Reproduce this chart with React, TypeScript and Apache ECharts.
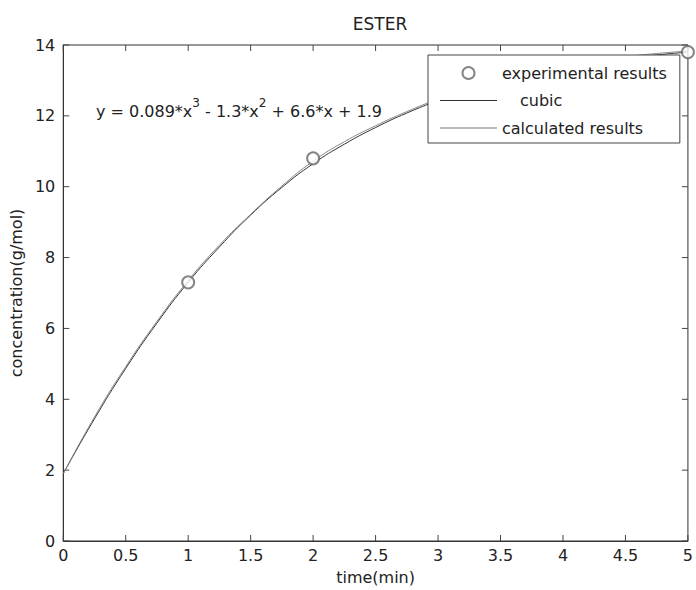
import React, { useEffect, useRef } from "react";
import * as echarts from "echarts";

const experimentalX = [1, 2, 3, 4, 5];
const experimentalY = [7.3, 10.8, 12.45, 13.3, 13.8];

const cubicX = [0, 0.25, 0.5, 0.75, 1, 1.25, 1.5, 1.75, 2, 2.25, 2.5, 2.75, 3, 3.25, 3.5, 3.75, 4, 4.25, 4.5, 4.75, 5];
const cubicY = [1.9, 3.45, 4.87, 6.15, 7.3, 8.3, 9.2, 9.98, 10.65, 11.2, 11.67, 12.08, 12.43, 12.73, 12.98, 13.2, 13.38, 13.52, 13.63, 13.72, 13.8];

const calcX = [0, 0.25, 0.5, 0.75, 1, 1.25, 1.5, 1.75, 2, 2.25, 2.5, 2.75, 3, 3.25, 3.5, 3.75, 4, 4.25, 4.5, 4.75, 5];
const calcY = [1.9, 3.5, 4.92, 6.2, 7.35, 8.35, 9.22, 10.02, 10.72, 11.27, 11.72, 12.12, 12.47, 12.76, 13.02, 13.24, 13.42, 13.56, 13.67, 13.76, 13.83];

const xTickLabels = ["0", "0.5", "1", "1.5", "2", "2.5", "3", "3.5", "4", "4.5", "5"];
const yTickLabels = ["0", "2", "4", "6", "8", "10", "12", "14"];

const FONT = "DejaVu Sans, Liberation Sans, sans-serif";
const TXT = "#222";
const LINE_ICON = "path://M0,0 L57,0 L57,1 L0,1 Z";

export default function App() {
  const ref = useRef<HTMLDivElement>(null);
  useEffect(() => {
    if (!ref.current) return;
    const chart = echarts.init(ref.current, undefined, { renderer: "svg" });
    const zip = (xs: number[], ys: number[]) => xs.map((x, i) => [x, ys[i]]);
    const xTicks = xTickLabels.map(Number);
    const yTicks = yTickLabels.map(Number);
    const xMin = xTicks[0];
    const xMax = xTicks[xTicks.length - 1];
    const yMin = yTicks[0];
    const yMax = yTicks[yTicks.length - 1];
    const tickData = [
      ...xTicks.map((v) => [v, 0]),
      ...yTicks.map((v) => [v, 1]),
    ];
    const TL = 6;
    const tickStyle = { stroke: "#444", lineWidth: 1 };
    chart.setOption({
      animation: false,
      backgroundColor: "#fff",
      textStyle: { fontFamily: FONT },
      title: {
        text: "ESTER",
        left: 375,
        top: 10,
        textAlign: "center",
        textStyle: { fontFamily: FONT, fontSize: 17, fontWeight: "normal", color: TXT },
      },
      grid: {
        left: 63,
        right: 8,
        top: 45,
        bottom: 48,
        containLabel: false,
        show: true,
        borderColor: "#333",
        borderWidth: 1,
        backgroundColor: "transparent",
      },
      xAxis: {
        type: "value",
        min: xMin,
        max: xMax,
        interval: 0.5,
        position: "bottom",
        name: "time(min)",
        nameLocation: "middle",
        nameGap: 28,
        nameTextStyle: { fontFamily: FONT, fontSize: 16, color: TXT },
        axisLine: { show: true, lineStyle: { color: "#333", width: 1 } },
        axisTick: { show: false },
        splitLine: { show: false },
        axisLabel: {
          fontFamily: FONT,
          fontSize: 16,
          color: TXT,
          margin: 6,
          formatter: (v: number) => xTickLabels[Math.round(v * 2)] ?? "",
        },
      },
      yAxis: {
        type: "value",
        min: yMin,
        max: yMax,
        interval: 2,
        position: "left",
        name: "concentration(g/mol)",
        nameLocation: "middle",
        nameGap: 39,
        nameTextStyle: { fontFamily: FONT, fontSize: 16, color: TXT },
        axisLine: { show: true, lineStyle: { color: "#333", width: 1 } },
        axisTick: { show: false },
        splitLine: { show: false },
        axisLabel: {
          fontFamily: FONT,
          fontSize: 16,
          color: TXT,
          margin: 8,
          formatter: (v: number) => yTickLabels[Math.round(v / 2)] ?? "",
        },
      },
      legend: {
        orient: "vertical",
        left: 428,
        top: 55,
        backgroundColor: "#fff",
        borderColor: "#444",
        borderWidth: 1,
        borderRadius: 0,
        padding: [9, 13, 6, 12],
        itemWidth: 57,
        itemHeight: 12,
        itemGap: 9.5,
        textStyle: {
          fontFamily: FONT,
          fontSize: 16,
          lineHeight: 18,
          color: TXT,
          rich: { ind: { fontFamily: FONT, fontSize: 16, lineHeight: 18, color: TXT, padding: [0, 0, 0, 18] } },
        },
        formatter: (name: string) => (name === "cubic" ? "{ind|cubic}" : name),
        data: [
          {
            name: "experimental results",
            icon: "emptyCircle",
            itemStyle: { color: "#666", borderColor: "#666", borderWidth: 1 },
          },
          { name: "cubic", icon: LINE_ICON, itemStyle: { color: "#333", borderWidth: 0 } },
          { name: "calculated results", icon: LINE_ICON, itemStyle: { color: "#777", borderWidth: 0 } },
        ],
        z: 10,
      },
      graphic: [
        {
          type: "text",
          left: 96,
          top: 97,
          z: 5,
          style: {
            text: "{b|y = 0.089*x}{s|3}{b| - 1.3*x}{s|2}{b| + 6.6*x + 1.9}",
            fill: TXT,
            rich: {
              b: { fontFamily: FONT, fontSize: 16, color: TXT, lineHeight: 22, verticalAlign: "bottom" },
              s: { fontFamily: FONT, fontSize: 12, color: TXT, lineHeight: 22, verticalAlign: "top" },
            },
          },
        },
      ],
      series: [
        {
          // inward tick marks on all four sides of the frame
          type: "custom",
          silent: true,
          clip: false,
          z: 1,
          data: tickData,
          encode: { x: -1, y: -1 },
          renderItem: (params: any, api: any) => {
            const v = api.value(0);
            const kind = api.value(1);
            if (kind === 0) {
              const b = api.coord([v, yMin]);
              const t = api.coord([v, yMax]);
              return {
                type: "group",
                children: [
                  { type: "line", shape: { x1: b[0], y1: b[1], x2: b[0], y2: b[1] - TL }, style: tickStyle },
                  { type: "line", shape: { x1: t[0], y1: t[1], x2: t[0], y2: t[1] + TL }, style: tickStyle },
                ],
              };
            }
            const l = api.coord([xMin, v]);
            const r = api.coord([xMax, v]);
            return {
              type: "group",
              children: [
                { type: "line", shape: { x1: l[0], y1: l[1], x2: l[0] + TL, y2: l[1] }, style: tickStyle },
                { type: "line", shape: { x1: r[0], y1: r[1], x2: r[0] - TL, y2: r[1] }, style: tickStyle },
              ],
            };
          },
        },
        {
          name: "experimental results",
          type: "scatter",
          data: zip(experimentalX, experimentalY),
          symbol: "emptyCircle",
          symbolSize: 12,
          clip: false,
          itemStyle: { color: "#666", borderColor: "#666", borderWidth: 1 },
          z: 3,
        },
        {
          name: "cubic",
          type: "line",
          data: zip(cubicX, cubicY),
          showSymbol: false,
          symbol: "none",
          smooth: true,
          lineStyle: { color: "#333", width: 1 },
          itemStyle: { color: "#333" },
          z: 2,
        },
        {
          name: "calculated results",
          type: "line",
          data: zip(calcX, calcY),
          showSymbol: false,
          symbol: "none",
          smooth: true,
          lineStyle: { color: "#888", width: 1 },
          itemStyle: { color: "#888" },
          z: 2,
        },
      ],
    });
    return () => chart.dispose();
  }, []);
  return (
    <div
      ref={ref}
      style={{ position: "absolute", left: 0, top: 0, width: 696, height: 590 }}
    />
  );
}
